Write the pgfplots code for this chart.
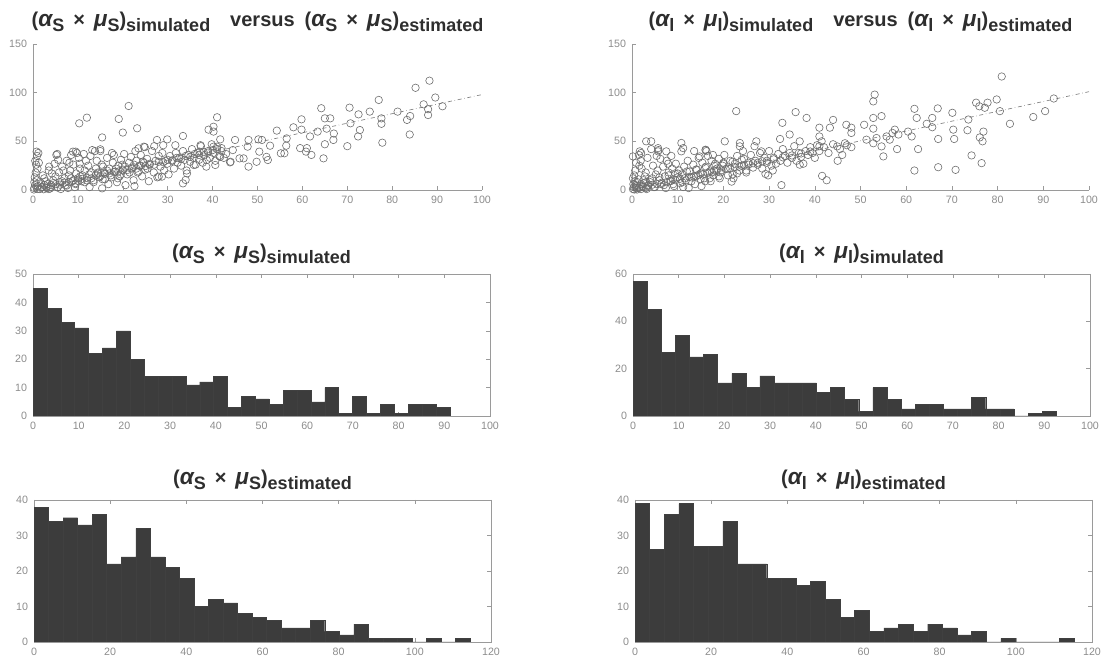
\documentclass[border=0pt]{standalone}
\usepackage{fontspec}
\setmainfont{Liberation Sans}
\usepackage{pgfplots}
\pgfplotsset{compat=1.18}
\definecolor{barfill}{HTML}{3C3C3C}
\definecolor{axgray}{HTML}{9A9A9A}
\definecolor{ticktext}{HTML}{8C8C8C}
\definecolor{titlecol}{HTML}{2E2E2E}
\definecolor{ptcol}{HTML}{6E6E6E}
\newcommand{\sbs}[1]{\raisebox{-0.45ex}{\fontsize{13.5}{14}\selectfont #1}}
\newcommand{\gk}[1]{{\fontsize{17}{18}\selectfont\itshape #1}}
\newcommand{\grp}[2]{(\gk{α}\sbs{#1}\ \,×\ \,\gk{μ}\sbs{#1})\sbs{#2}}
\pgfplotsset{
  every axis title/.style={at={(0.5,1)}, anchor=base, yshift=11.25pt,
      font=\fontsize{15}{17}\selectfont\bfseries, text=titlecol},
  base/.style={scale only axis, tick align=inside,
    axis line style={axgray, line width=0.5pt},
    tick style={axgray, line width=0.4pt}, major tick length=3pt,
    ticklabel style={font=\fontsize{8}{9}\selectfont, text=ticktext},
    /pgf/number format/assume math mode=true,
    xticklabel style={yshift=-1pt}, yticklabel style={xshift=-1pt}},
  scat/.style={base, height=109.5pt,
    axis x line*=bottom, axis y line*=left,
    xmin=0, xmax=100, ymin=0, ymax=150,
    xtick={0,10,...,100}, ytick={0,50,100,150}},
  hist/.style={base, width=342.75pt, height=106.5pt, ymin=0},
  bars/.style={ybar interval, fill=barfill, draw=black!75, line width=0.3pt},
  pts/.style={only marks, mark=o, mark size=2.8pt, ptcol, mark options={line width=0.45pt}},
  fit/.style={gray, dash dot, line width=0.5pt},
}
\begin{document}
\begin{tikzpicture}[x=1pt,y=1pt]
\path (0,0) rectangle (833.25,499.5);
% ---------- top left scatter
\begin{axis}[scat, at={(24.75pt,357pt)}, anchor=south west, width=336.75pt,
  title style={yshift=1.5pt},
  title={\grp{S}{simulated}\quad versus\enspace \grp{S}{estimated}}]
\addplot[pts] coordinates {
(88.3,112.3)(85.2,105)(89.6,95)(91.2,86)(87,88)(88,77)(88,83)(83.3,72)(84,76)(83.9,57)(81.2,80.5)
(77,92.5)(75,80.5)(77.6,68)(77.6,73.6)(77.8,48.6)(70.5,84.6)(72.5,77.7)(70.7,68.5)(70,45)(72.4,55)(72.8,61.6)
(64.2,84)(65,73.6)(66.2,73.6)(65.4,63)(67,58)(64.7,32.5)(65,47)(66.9,51.4)(59.8,72.6)(58,64.4)(59.8,62)
(61.7,55)(61,43)(62,36)(60.8,39.4)(59.5,43)(63.4,60)(54.3,61)(56.5,53)(55.2,37.7)(56,37.7)(56.4,45.5)
(52.8,45.5)(51,51.4)(50.2,52)(50.4,39.4)(52,34)(52.3,30.8)(49.8,29)(48,51.4)(47.8,44.5)(48,24)(46.9,32.5)
(46,32.5)(45,51.4)(43.9,28.4)(41,74.7)(40.2,65)(39.1,62)(40.2,60)(41.7,52)(41,44.5)(42,43)(40.2,44.5)
(41.7,34)(38.7,30.8)(40.6,25.7)(37.3,46)(37.1,39.4)(35.8,25.7)(33.4,55.5)(29.9,52)(27.6,51.4)(31.7,46)
(28,13.7)(28.7,13.7)(34.3,17)(34,10.3)(33.4,6.8)(23.2,63.4)(23.5,42.8)(24.7,44.5)(21.3,86.3)(20,59)
(19.1,73)(12,74.3)(10.3,68.5)(15.4,54)(15.4,1.7)(8.9,39.4)(9.5,39.4)(0.8,39.4)(5.4,37)(13.2,41)(15,41.8)
(0.3,2)(0.5,5)(0.8,10)(0.4,13)(0.6,18)(1,22)(0.7,26)(0.5,30)(0.9,35)(1.2,38)(0.2,0.5)(1.5,1)(2,3)(1.8,7)
(2.5,12)(2.2,15)(3,2)(3.2,6)(2.8,9)(3.5,20)(1.3,28)(0.3,8)(1.1,4)(2.4,0.8)(3.8,1.5)
(4,5)(4.5,10)(5,14)(5.5,3)(6,8)(5.8,18)(6.5,24)(7,12)(7.2,5)(7.5,30)(8,15)(8.3,20)(8.8,9)(9,26)(9.3,3)
(9.6,17)(10,12)(10.2,33)(10.5,22)(4.8,27)(5.2,36)(6.2,1)(7.8,2)(8.5,36)(9.8,38)(4.2,17)(6.8,20)(3.6,24)
(5.6,31)(8.1,28)(9.5,7)(10.8,9)(10.4,27)
(11,15)(11.5,20)(12,10)(12.3,25)(12.8,35)(13,18)(13.5,8)(14,22)(14.2,30)(14.8,13)(15,40)(15.3,26)(15.8,18)
(16,11)(16.5,33)(17,22)(17.3,15)(17.8,28)(18,36)(18.3,19)(18.7,8)(19,25)(19.3,14)(19.6,31)(20,20)(20.3,37)
(20.6,5)(11.3,37)(12.6,3)(13.8,40)(16.8,6)(18.9,12)(14.5,17)(11.8,30)(15.6,24)(17.6,38)(19.9,26)
(21,16)(21.4,28)(21.8,34)(22,22)(22.4,10)(22.8,40)(23,30)(23.3,18)(23.7,25)(24,36)(24.3,14)(24.7,28)(25,21)
(25.4,32)(25.8,9)(26,26)(26.5,40)(26.9,18)(27.3,30)(27.7,13)(28,35)(28.4,24)(28.8,38)(29.2,20)(29.5,30)
(29.9,27)(30.2,16)(30.5,35)(22.6,4)(24.9,44)(27,45)(29,46)
(31,30)(31.4,22)(31.8,38)(32.2,28)(32.6,33)(33,25)(33.4,40)(33.8,31)(34.2,20)(34.6,36)(35,29)(35.4,42)
(35.8,33)(36.2,26)(36.6,38)(37,31)(37.4,45)(37.8,28)(38.2,36)(38.6,24)(39,40)(39.4,33)(39.8,47)(40.2,38)
(40.6,30)(41,42)(41.5,35)(42,40)(42.5,33)(43,37)(44,29)(44.5,41)
(1,1)(2,2.5)(3,3.5)(4,3)(5,6)(6,5.5)(7,7.5)(8,8)(9,10)(10,9.5)(11,11.5)(12,12.5)(13,12)(14,15)(15,14.5)
(16,16.5)(17,17)(18,18.5)(19,19)(20,21)(21,20.5)(22,23)(23,22)(24,25)(25,24.5)(26,27)(27,26)(28,29)
(29,28.5)(30,31)(31,30.5)(32,33)(33,32)(34,35)(35,34)(36,37)(37,36)(38,39)(39,38.5)(40,41)
(2.5,5)(4.5,7)(6.5,9)(8.5,12)(10.5,14)(12.5,16)(14.5,18)(16.5,20)(18.5,22)(20.5,24)(22.5,26)(24.5,29)
(3.5,1)(5.5,2.5)(7.5,4.5)(9.5,6)(11.5,8)(13.5,10)(15.5,11)(17.5,13)(19.5,16)(21.5,18)(23.5,19)(25.5,22)
};
\addplot[fit] coordinates {(0,0)(100,98)};
\end{axis}
% ---------- top right scatter
\begin{axis}[scat, at={(474pt,357pt)}, anchor=south west, width=342.75pt,
  title style={yshift=1.5pt},
  title={\grp{l}{simulated}\quad versus\enspace \grp{l}{estimated}}]
\addplot[pts] coordinates {
(80.9,116.6)(79.8,93)(77.8,89.7)(75.3,89.7)(76,86)(77.2,84.5)(80.5,81)(92.3,94)(90.4,81)(87.8,75)(82.7,68)
(73.6,72.4)(73.4,61.4)(70.5,52.4)(74.3,35.5)(76.5,27.6)(76.1,54)(76.9,60)(76.7,50)(70.8,20.7)(70.3,62)
(70.1,79.3)(66.9,83.8)(67,52.4)(67,23.4)(65.7,74)(65.7,64.5)(64.5,68)(62.3,74)(61.8,83.4)(61.8,20)(62.6,42)
(61.2,55)(60.4,60)(58,42)(57.5,62)(58.3,57)(56.4,51.7)(55.7,55)(57,58.6)(55,34.5)(54.6,75.9)(54.6,44.8)
(53.1,98)(52.8,91)(52.8,74)(52.8,63)(52.8,48)(53.5,53.4)(50.8,67)(51.3,51.7)(46.9,67)(48,64)(48,58.6)
(46.6,48)(44.9,44.8)(44,72)(43.3,64)(42.6,10)(41.6,14.5)(41,64)(41,55)(41,45)(38.2,74)(35.8,80)(32.9,69)
(32.4,52.4)(34.5,57)(36.7,50)(36.7,26)(32.7,5)(29.2,16.5)(28.3,39.7)(27.2,50)(23.6,48.3)(23.6,44.8)
(22.8,81)(20.3,50)(21.8,8.6)(16.1,41.4)(10.8,48.3)(11.2,43)(10.8,39.7)(3.1,50)(4.2,50)(1.7,39.7)(5.7,43)
(5.7,39.7)(0.2,34.5)(7.5,39.7)(14.8,34.5)(17.7,36)
(0.2,1)(0.4,3)(0.3,6)(0.6,9)(0.2,12)(0.5,15)(0.8,5)(1,2)(1.2,8)(1.4,11)(0.7,20)(1.6,25)(1.9,30)(1.5,36)
(2,38)(2.3,4)(2.6,7)(2.8,14)(3,18)(3.2,1)(2.1,22)(0.9,28)(3.4,33)(1.1,0.5)(2.5,10)(3.6,5)
(4,8)(4.4,12)(4.8,3)(5.2,16)(5.6,20)(6,10)(6.4,6)(6.8,24)(7.2,14)(7.6,30)(8,18)(8.4,9)(8.8,22)(9.2,4)
(9.6,27)(10,13)(4.6,25)(5.4,35)(6.2,32)(7.4,2)(8.6,35)(9.4,17)(10.3,20)(4.2,42)(5.8,41)(7.9,27)(9,11)(10.6,7)
(11,16)(11.4,24)(11.8,10)(12.2,30)(12.6,19)(13,13)(13.4,26)(13.8,6)(14.2,21)(14.6,33)(15,17)(15.4,28)
(15.8,12)(16.2,24)(16.6,35)(17,19)(17.4,30)(17.8,15)(18.2,27)(18.6,22)(19,32)(19.4,18)(19.8,25)(20.2,36)
(11.2,3)(12.4,2)(13.6,40)(15.2,4)(17.2,9)(19.2,12)(14,14)(16,9)(18,20)(20,28)(16.3,40)(16.1,41)
(21,22)(21.5,30)(22,16)(22.5,27)(23,35)(23.5,20)(24,25)(24.5,32)(25,18)(25.5,28)(26,36)(26.5,23)(27,30)
(27.5,26)(28,38)(28.5,22)(29,33)(29.5,28)(30,40)(30.5,25)(22.2,12)(24.3,40)(26.8,45)(29.8,15)(30.8,20)
(31,33)(31.5,27)(32,37)(32.5,30)(33,42)(33.5,35)(34,28)(34.5,38)(35,33)(35.5,45)(36,30)(36.5,38)(37,34)
(37.5,27)(38,40)(38.5,36)(39,44)(39.5,38)(40,33)(40.5,46)(41,40)(41.5,50)(42,44)(43,38)(44,47)(45,30)
(45.5,42)(46,36)(47,46)(48,44)
(0.5,0.5)(1.5,2)(2.5,3)(3.5,4)(4.5,5.5)(5.5,6)(6.5,7.5)(7.5,8)(8.5,9.5)(9.5,10)(10.5,11.5)(11.5,12)
(12.5,13.5)(13.5,14)(14.5,15.5)(15.5,16)(16.5,17.5)(17.5,18)(18.5,19.5)(19.5,20)(20.5,21.5)(21.5,22)
(22.5,23.5)(23.5,24)(24.5,25.5)(25.5,26)(26.5,27.5)(27.5,28)(28.5,29.5)(29.5,30)(31,31.5)(33,33.5)
(35,35.5)(37,37.5)(39,39.5)(1,4)(2,6)(3,8)(4,10)(6,13)(8,15)(10,17)(12,19)(14,21)(16,23)(18,25)(20,27)
(22,29)(24,31)(2,1)(3,2)(5,3)(7,5)(9,6)(11,8)(13,9)(15,11)(17,12)(19,14)(21,15)(23,17)(25,20)
};
\addplot[fit] coordinates {(0,0)(100,101)};
\end{axis}
% ---------- middle left histogram
\begin{axis}[hist, at={(24.75pt,187.5pt)}, anchor=south west,
  xmin=0, xmax=100, ymax=50, xtick={0,10,...,100}, ytick={0,10,...,50},
  title={\grp{S}{simulated}}]
\addplot[bars] coordinates {
(0,45)(3.04,38)(6.08,33)(9.12,31)(12.16,22)(15.2,24)(18.24,30)(21.28,20)(24.32,14)(27.36,14)
(30.4,14)(33.44,11)(36.48,12)(39.52,14)(42.56,3)(45.6,7)(48.64,6)(51.68,4)(54.72,9)(57.76,9)
(60.8,5)(63.84,10)(66.88,1)(69.92,7)(72.96,1)(76,4)(79.04,1)(82.08,4)(85.12,4)(88.16,3)(91.2,3)};
\end{axis}
% ---------- middle right histogram
\begin{axis}[hist, at={(474.75pt,187.5pt)}, anchor=south west,
  xmin=0, xmax=100, ymax=60, xtick={0,10,...,100}, ytick={0,20,40,60},
  title={\grp{l}{simulated}}]
\addplot[bars] coordinates {
(0,57)(3.09,45)(6.17,27)(9.26,34)(12.35,25)(15.44,26)(18.52,14)(21.61,18)(24.70,12)(27.78,17)
(30.87,14)(33.96,14)(37.04,14)(40.13,10)(43.22,12)(46.31,7)(49.39,2)(52.48,12)(55.57,7)(58.65,3)
(61.74,5)(64.83,5)(67.91,3)(71.00,3)(74.09,8)(77.18,3)(80.26,3)(83.35,0)(86.44,1)(89.52,2)(92.61,2)};
\end{axis}
% ---------- bottom left histogram
\begin{axis}[hist, at={(25.5pt,18pt)}, anchor=south west,
  xmin=0, xmax=120, ymax=40, xtick={0,20,...,120}, ytick={0,10,...,40},
  title={\grp{S}{estimated}}]
\addplot[bars] coordinates {
(0,38)(3.82,34)(7.63,35)(11.45,33)(15.27,36)(19.08,22)(22.90,24)(26.72,32)(30.54,24)(34.35,21)
(38.17,18)(41.99,10)(45.80,12)(49.62,11)(53.44,8)(57.26,7)(61.07,6)(64.89,4)(68.71,4)(72.52,6)
(76.34,3)(80.16,2)(83.97,5)(87.79,1)(91.61,1)(95.43,1)(99.24,0)(103.06,1)(106.88,0)(110.69,1)(114.51,1)};
\end{axis}
% ---------- bottom right histogram
\begin{axis}[hist, at={(476.25pt,18pt)}, anchor=south west,
  xmin=0, xmax=120, ymax=40, xtick={0,20,...,120}, ytick={0,10,...,40},
  title={\grp{l}{estimated}}]
\addplot[bars] coordinates {
(0,39)(3.84,26)(7.69,36)(11.53,39)(15.37,27)(19.22,27)(23.06,34)(26.90,22)(30.74,22)(34.59,18)
(38.43,18)(42.27,16)(46.12,17)(49.96,12)(53.80,7)(57.64,9)(61.49,3)(65.33,4)(69.17,5)(73.02,3)
(76.86,5)(80.70,4)(84.55,2)(88.39,3)(92.23,0)(96.08,1)(99.92,0)(103.76,0)(107.60,0)(111.45,1)(115.29,1)};
\end{axis}
\end{tikzpicture}
\end{document}
